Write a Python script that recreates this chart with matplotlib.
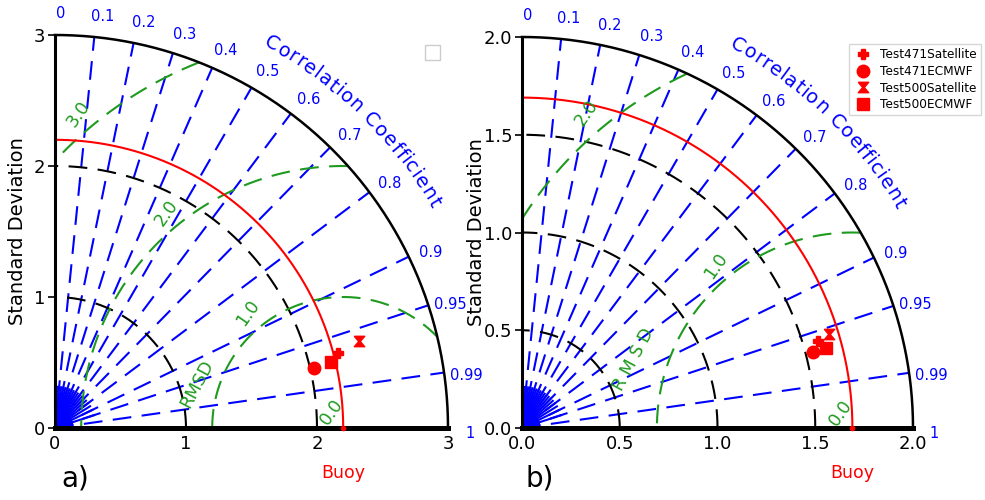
import numpy as np
import matplotlib
matplotlib.use("Agg")
import matplotlib.pyplot as plt
from matplotlib.path import Path
from matplotlib.patches import Rectangle
from matplotlib.textpath import TextToPath
from matplotlib.font_manager import FontProperties

# correlation tick values and their labels
corr_ticks = [0.0, 0.1, 0.2, 0.3, 0.4, 0.5, 0.6, 0.7, 0.8, 0.9, 0.95, 0.99, 1.0]
corr_labels = ["0", "0.1", "0.2", "0.3", "0.4", "0.5", "0.6", "0.7", "0.8", "0.9", "0.95", "0.99", "1"]

names = ["Test471Satellite", "Test471ECMWF", "Test500Satellite", "Test500ECMWF"]

# panel a)
ref_std_a = 2.2
std_a = [2.233, 2.033, 2.415, 2.168]
corr_a = [0.967, 0.974, 0.961, 0.973]
std_rings_a = [1, 2]
rms_levels_a = [1, 2, 3]
std_ticks_a = [0, 1, 2, 3]
std_ticklabels_a = ["0", "1", "2", "3"]
rms_text_a = ["0.0", "1.0", "2.0", "3.0"]

# panel b)
ref_std_b = 1.69
std_b = [1.577, 1.539, 1.645, 1.608]
corr_b = [0.959, 0.968, 0.956, 0.967]
std_rings_b = [0.5, 1.0, 1.5]
rms_levels_b = [1, 2]
std_ticks_b = [0, 0.5, 1.0, 1.5, 2.0]
std_ticklabels_b = ["0.0", "0.5", "1.0", "1.5", "2.0"]
rms_text_b = ["0.0", "1.0", "2.0"]

hourglass = Path([(-1, 1), (1, 1), (0.15, 0), (1, -1), (-1, -1), (-0.15, 0), (-1, 1)])
markers = ["P", "o", hourglass, "s"]
msizes = [7, 9, 7.5, 9]

BLUE = "#0000ff"
GREEN = "#1e9a1e"
RED = "#ff0000"
DASH = (9, 5)


def curved_text(ax, s, r, a0, a1, **kw):
    t2p = TextToPath()
    fp = FontProperties(size=kw.get("fontsize", 13))
    w = []
    for ch in s:
        if ch == " ":
            w.append(t2p.get_text_width_height_descent("a a", fp, False)[0]
                     - t2p.get_text_width_height_descent("aa", fp, False)[0])
        else:
            w.append(t2p.get_text_width_height_descent(ch, fp, False)[0])
    w = np.array(w)
    c = np.cumsum(w) - w / 2
    frac = (c - c[0]) / (c[-1] - c[0])
    for ch, f in zip(s, frac):
        a = np.radians(a0 + (a1 - a0) * f)
        ax.text(r * np.cos(a), r * np.sin(a), ch, rotation=np.degrees(a) - 90,
                rotation_mode="anchor", ha="center", va="center", clip_on=False, **kw)


def taylor(ax, rmax, ref, rings, rms_levels, ticks, ticklabels, std, corr, ylab_px):
    ax.set_xlim(0, rmax)
    ax.set_ylim(0, rmax)
    ax.spines["top"].set_visible(False)
    ax.spines["right"].set_visible(False)
    ax.spines["left"].set_linewidth(2.2)
    ax.spines["bottom"].set_linewidth(3.6)
    ax.spines["left"].set_zorder(6)
    ax.spines["bottom"].set_zorder(6)
    ax.set_xticks(ticks)
    ax.set_xticklabels(ticklabels)
    ax.set_yticks(ticks)
    ax.set_yticklabels(ticklabels)
    ax.tick_params(axis="both", labelsize=13, length=5, width=1.2, direction="out", pad=2)
    ax.tick_params(axis="x", length=0, pad=5)

    # fine fan of correlation marks near the origin
    for cc in np.arange(0, 1.0001, 0.01):
        a = np.arccos(cc)
        ax.plot([0, 0.045 * rmax * np.cos(a)], [0, 0.045 * rmax * np.sin(a)],
                color=BLUE, lw=1.3, clip_on=False, zorder=2)
    for cc in np.arange(0, 1.0001, 0.05):
        a = np.arccos(cc)
        ax.plot([0.05 * rmax * np.cos(a), 0.105 * rmax * np.cos(a)],
                [0.05 * rmax * np.sin(a), 0.105 * rmax * np.sin(a)],
                color=BLUE, lw=1.5, clip_on=False, zorder=2)

    # correlation lines
    for cc, lab in zip(corr_ticks, corr_labels):
        a = np.arccos(cc)
        if 0 < cc < 1:
            ax.plot([0, rmax * np.cos(a)], [0, rmax * np.sin(a)], color=BLUE, lw=1.5,
                    dashes=DASH, clip_on=False, zorder=2)
        a2 = a - np.radians(0.8)
        ax.text(1.055 * rmax * np.cos(a2), 1.055 * rmax * np.sin(a2), lab, color=BLUE,
                fontsize=10.5, ha="center", va="center", clip_on=False)
    curved_text(ax, "Correlation Coefficient", 1.122 * rmax, 60.6, 30.8, color=BLUE, fontsize=14)

    th = np.linspace(0, np.pi / 2, 300)
    # std rings
    for rr in rings:
        ax.plot(rr * np.cos(th), rr * np.sin(th), color="black", lw=1.5, dashes=DASH,
                clip_on=False, zorder=3)
    ax.plot(rmax * np.cos(th), rmax * np.sin(th), color="black", lw=1.8, clip_on=False, zorder=5)

    # rmsd circles
    tt = np.linspace(0, np.pi, 800)
    for lv in rms_levels:
        x = ref + lv * np.cos(tt)
        y = lv * np.sin(tt)
        bad = (np.hypot(x, y) > rmax) | (x < 0)
        x[bad] = np.nan
        y[bad] = np.nan
        ax.plot(x, y, color=GREEN, lw=1.5, dashes=DASH, clip_on=False, zorder=3)

    # reference
    ax.plot(ref * np.cos(th), ref * np.sin(th), color=RED, lw=1.5, clip_on=False, zorder=4)
    ax.plot([ref], [0], "o", color=RED, ms=3, clip_on=False, zorder=7)

    for s, c, m, ms, n in zip(std, corr, markers, msizes, names):
        a = np.arccos(c)
        ax.plot(s * np.cos(a), s * np.sin(a), linestyle="none", marker=m, ms=ms,
                color=RED, mec=RED, label=n, zorder=8, clip_on=False)

    bb = ax.get_position()
    ax.text(ylab_px / (bb.width * 985), 0.5, "Standard Deviation", rotation=90, fontsize=14,
            ha="center", va="center", transform=ax.transAxes)
    ax.text(ref, -0.115 * rmax, "Buoy", color=RED, fontsize=12.5, ha="center", va="center")


fig = plt.figure(figsize=(9.85, 5), dpi=100)
axA = fig.add_axes([55 / 985, 72 / 500, 393 / 985, 393 / 500])
axB = fig.add_axes([522 / 985, 72 / 500, 391 / 985, 391 / 500])

taylor(axA, 3, ref_std_a, std_rings_a, rms_levels_a, std_ticks_a, std_ticklabels_a, std_a, corr_a, -37)
taylor(axB, 2, ref_std_b, std_rings_b, rms_levels_b, std_ticks_b, std_ticklabels_b, std_b, corr_b, -46)

# rmsd labels
rms_pos_a = [(2.11, 0.12), (1.47, 0.88), (0.85, 1.64), (0.18, 2.40)]
for (x, y), t in zip(rms_pos_a, rms_text_a):
    axA.text(x, y, t, color=GREEN, fontsize=12.5, rotation=55, ha="center", va="center", zorder=5)
axA.text(1.08, 0.34, "RMSD", color=GREEN, fontsize=12.5, rotation=62, ha="center", va="center")

rms_pos_b = [(1.63, 0.077), (0.99, 0.83), (0.33, 1.61)]
for (x, y), t in zip(rms_pos_b, rms_text_b):
    axB.text(x, y, t, color=GREEN, fontsize=12.5, rotation=55, ha="center", va="center", zorder=5)
axB.text(0.57, 0.35, "R M S D", color=GREEN, fontsize=12.5, rotation=62, ha="center", va="center")

# empty legend frame of panel a
fig.patches.append(Rectangle((425 / 985, 1 - 60 / 500), 15 / 985, 15 / 500, transform=fig.transFigure,
                             facecolor="white", edgecolor="#cccccc", lw=1.0))
axB.legend(loc="upper left", bbox_to_anchor=(843 / 985, 1 - 38 / 500), bbox_transform=fig.transFigure,
           fontsize=8.7, labelspacing=0.3, handletextpad=0.6, borderpad=0.35, fancybox=False,
           handlelength=1.6)

fig.text(75 / 985, 1 - 478 / 500, "a)", fontsize=20, ha="center", va="center")
fig.text(540 / 985, 1 - 478 / 500, "b)", fontsize=20, ha="center", va="center")

fig.savefig("out.png", dpi=100)
